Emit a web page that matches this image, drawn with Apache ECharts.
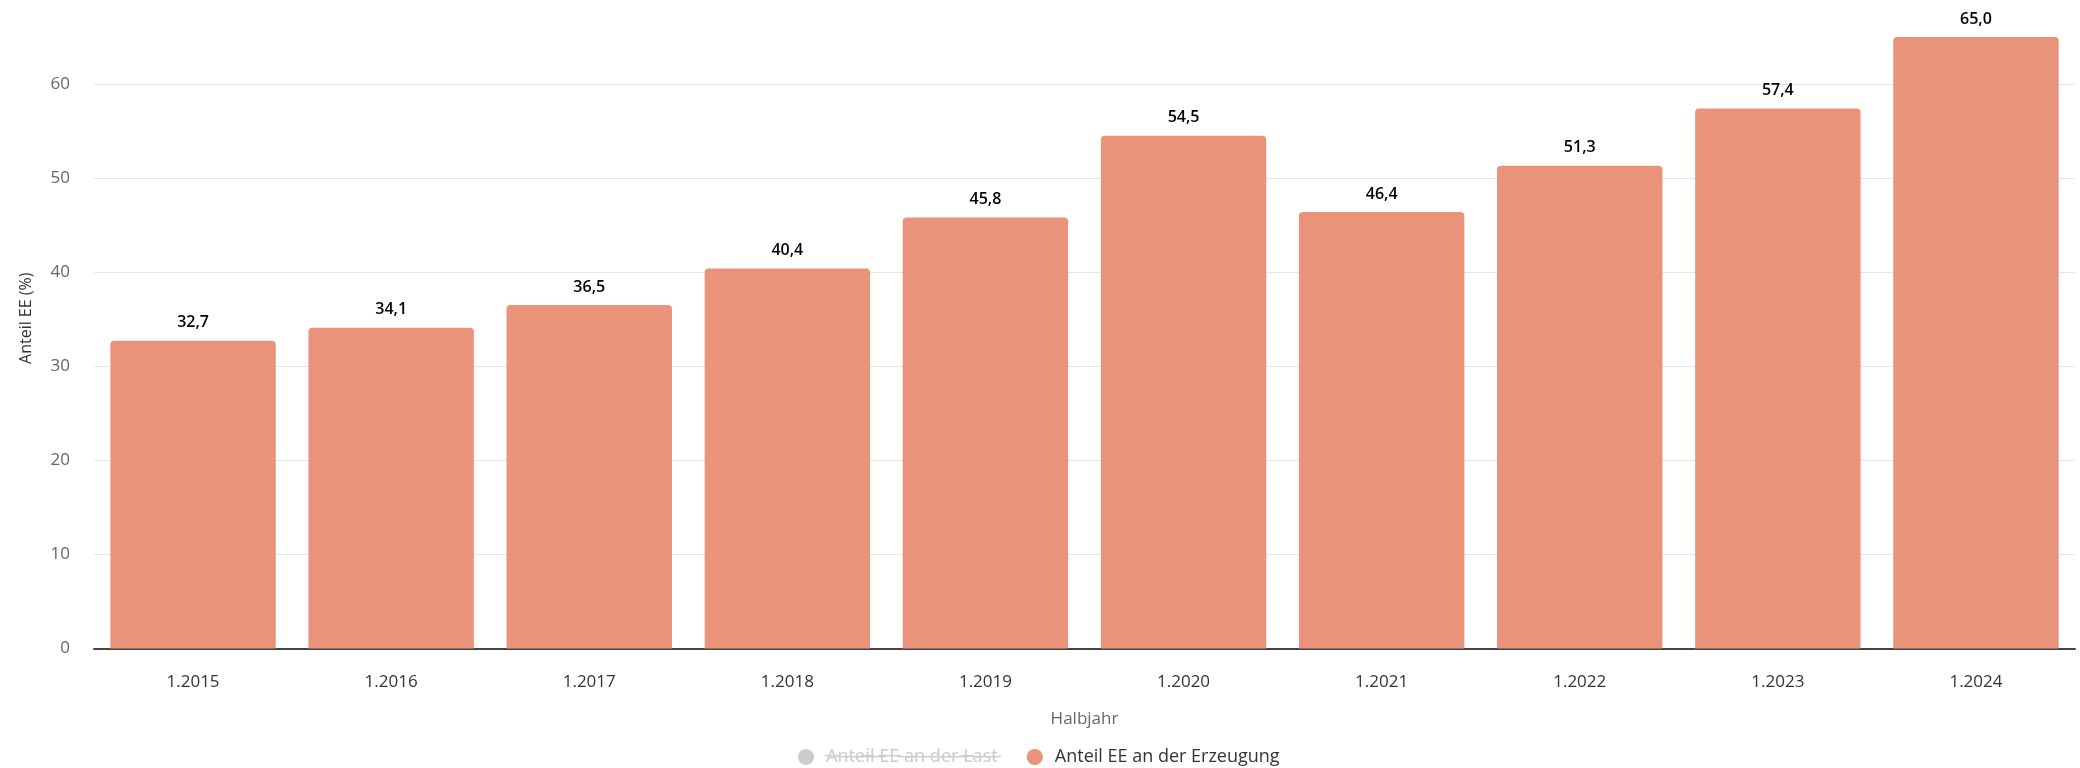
<!DOCTYPE html>
<html>
<head>
<meta charset="utf-8">
<script src="https://cdn.jsdelivr.net/npm/echarts@6/dist/echarts.min.js"></script>
<style>
    html, body { margin: 0; padding: 0; background: #fff; }
    #chart { width: 2080px; height: 768px; }
</style>
</head>
<body>
<div id="chart"></div>
<script>
const halbjahre = ['1.2015', '1.2016', '1.2017', '1.2018', '1.2019', '1.2020', '1.2021', '1.2022', '1.2023', '1.2024'];
const anteilErzeugung = [32.7, 34.1, 36.5, 40.4, 45.8, 54.5, 46.4, 51.3, 57.4, 65.0];
// hidden series (switched off in the legend), no visible values
const anteilLast = [];
const yTicks = [0, 10, 20, 30, 40, 50, 60];

const FONT = '"Open Sans", "Noto Sans", sans-serif';
const LAST = 'Anteil EE an der Last';
const ERZEUGUNG = 'Anteil EE an der Erzeugung';

// combining long stroke to fake the struck-through inactive legend entry
const strike = (s) => s.split('').map(c => c + '\u0336').join('');

const chart = echarts.init(document.getElementById('chart'));

chart.setOption({
    animation: false,
    textStyle: { fontFamily: FONT },
    grid: {
        left: 94,
        right: 5,
        top: 84,
        bottom: 119.5,
    },
    legend: {
        left: 793,
        top: 743,
        icon: 'circle',
        itemWidth: 30,
        itemHeight: 16,
        itemGap: 29,
        inactiveColor: '#cccccc',
        textStyle: { color: '#333333', fontSize: 18, fontFamily: FONT },
        selected: { [LAST]: false },
        formatter: (name) => (name === LAST ? strike(name) : name),
        data: [LAST, ERZEUGUNG],
    },
    xAxis: {
        type: 'category',
        data: halbjahre,
        name: 'Halbjahr',
        nameLocation: 'middle',
        nameGap: 62,
        nameTextStyle: { color: '#666666', fontSize: 17 },
        axisLine: { lineStyle: { color: '#444444', width: 2 } },
        axisTick: { show: false },
        axisLabel: { color: '#333333', fontSize: 17, margin: 25 },
    },
    yAxis: {
        type: 'value',
        min: yTicks[0],
        max: yTicks[yTicks.length - 1],
        interval: 10,
        name: 'Anteil EE (%)',
        nameLocation: 'middle',
        nameGap: 60,
        nameTextStyle: { color: '#333333', fontSize: 16, padding: [0, 0, 0, 96] },
        axisLine: { show: false },
        axisTick: { show: false },
        axisLabel: { color: '#666666', fontSize: 17, margin: 24 },
        splitLine: { lineStyle: { color: '#e6e6e6', width: 1 } },
    },
    series: [
        {
            name: LAST,
            type: 'bar',
            data: anteilLast,
            itemStyle: { color: '#7cb5ec' },
        },
        {
            name: ERZEUGUNG,
            type: 'bar',
            data: anteilErzeugung,
            clip: false,
            barCategoryGap: '16.5%',
            itemStyle: {
                color: '#e8937a',
                borderRadius: [4, 4, 0, 0],
            },
            label: {
                show: true,
                position: 'top',
                distance: 10,
                color: '#000000',
                fontSize: 16,
                fontWeight: 600,
                fontFamily: FONT,
                formatter: (p) => p.value.toFixed(1).replace('.', ','),
            },
        },
    ],
});
</script>
</body>
</html>
